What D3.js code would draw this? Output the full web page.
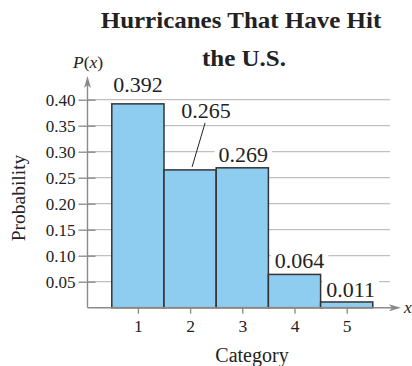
<!DOCTYPE html>
<html>
<head>
<meta charset="utf-8">
<script src="https://cdn.jsdelivr.net/npm/d3@7"></script>
<style>
  html, body { margin: 0; padding: 0; background: #fff; }
  svg { display: block; }
</style>
</head>
<body>
<svg id="chart" width="412" height="366"></svg>
<script>
// Hurricane categories and the probability of each
const categories = [1, 2, 3, 4, 5];
const probabilities = [0.392, 0.265, 0.269, 0.064, 0.011];
const valueLabels = ["0.392", "0.265", "0.269", "0.064", "0.011"];
const yTicks = [0.05, 0.10, 0.15, 0.20, 0.25, 0.30, 0.35, 0.40];
const yTickLabels = ["0.05", "0.10", "0.15", "0.20", "0.25", "0.30", "0.35", "0.40"];

const svg = d3.select("#chart");
const serif = "'Liberation Serif', 'Times New Roman', serif";

const originX = 87.5, baseY = 307.7;
const x = d3.scaleLinear().domain([0.5, 5.5]).range([111.8, 372.8]);
const y = d3.scaleLinear().domain([0, 0.40]).range([baseY, 99.7]);

// Gridlines
svg.append("g").selectAll("line").data(yTicks).join("line")
  .attr("x1", originX).attr("x2", 390)
  .attr("y1", d => y(d)).attr("y2", d => y(d))
  .attr("stroke", "#c0c0c0").attr("stroke-width", 1.2);

// Bars
svg.append("g").selectAll("rect").data(categories).join("rect")
  .attr("x", (d) => x(d - 0.5))
  .attr("y", (d, i) => y(probabilities[i]))
  .attr("width", (d) => x(d + 0.5) - x(d - 0.5))
  .attr("height", (d, i) => baseY - y(probabilities[i]))
  .attr("fill", "#8fcdf0")
  .attr("stroke", "#333")
  .attr("stroke-width", 1.5);

// Y axis ticks and labels
const yAxis = d3.axisLeft(y).tickValues(yTicks).tickFormat((d, i) => yTickLabels[i])
  .tickSize(0).tickPadding(12);
const gy = svg.append("g").attr("transform", `translate(${originX},0)`).call(yAxis);
gy.select(".domain").remove();
gy.selectAll("text").attr("font-family", serif).attr("font-size", 17).attr("fill", "#222");
gy.selectAll(".tick").append("line")
  .attr("x1", -9).attr("x2", 8).attr("y1", 0).attr("y2", 0)
  .attr("stroke", "#888").attr("stroke-width", 1.3);

// X axis ticks and labels
const xAxis = d3.axisBottom(x).tickValues(categories).tickFormat(d3.format("d"))
  .tickSize(6).tickPadding(6);
const gx = svg.append("g").attr("transform", `translate(0,${baseY})`).call(xAxis);
gx.select(".domain").remove();
gx.selectAll(".tick line").attr("stroke", "#888").attr("stroke-width", 1.3);
gx.selectAll("text").attr("font-family", serif).attr("font-size", 17.5).attr("fill", "#222");

// Axis lines with arrowheads
const axisColor = "#8a8a8a";
svg.append("line").attr("x1", originX).attr("x2", originX).attr("y1", baseY).attr("y2", 84)
  .attr("stroke", axisColor).attr("stroke-width", 1.4);
svg.append("path").attr("d", `M${originX},76 L${originX - 3.5},88 L${originX},85 L${originX + 3.5},88 Z`)
  .attr("fill", axisColor);
svg.append("line").attr("x1", originX).attr("x2", 394).attr("y1", baseY).attr("y2", baseY)
  .attr("stroke", axisColor).attr("stroke-width", 1.4);
svg.append("path").attr("d", `M401,${baseY} L389,${baseY - 3.5} L392,${baseY} L389,${baseY + 3.5} Z`)
  .attr("fill", axisColor);

// Axis variable names
svg.append("text").attr("x", 88).attr("y", 68).attr("text-anchor", "middle")
  .attr("font-family", serif).attr("font-size", 17.5).attr("fill", "#222")
  .html("<tspan font-style='italic'>P</tspan>(<tspan font-style='italic'>x</tspan>)");
svg.append("text").attr("x", 404).attr("y", 313)
  .attr("font-family", serif).attr("font-size", 17.5).attr("font-style", "italic").attr("fill", "#222")
  .text("x");

// Value labels; some sit on a white patch over the gridlines
const labelLayout = [
  { dx: 0, dy: -12, box: false },
  { dx: 16, dy: -52, box: false, leader: true },
  { dx: 1, dy: -6, box: true },
  { dx: 5, dy: -6, box: true },
  { dx: 4, dy: -5, box: true }
];
const labels = svg.append("g");
categories.forEach((c, i) => {
  const lay = labelLayout[i];
  const cx = x(c) + lay.dx;
  const by = y(probabilities[i]) + lay.dy;
  const t = labels.append("text").attr("x", cx).attr("y", by).attr("text-anchor", "middle")
    .attr("font-family", serif).attr("font-size", 22).attr("fill", "#222")
    .text(valueLabels[i]);
  if (lay.box) {
    const b = t.node().getBBox();
    labels.insert("rect", "text").attr("x", b.x - 4).attr("y", b.y + 3)
      .attr("width", b.width + 8).attr("height", b.height - 6).attr("fill", "#fff");
  }
  if (lay.leader) {
    labels.append("line")
      .attr("x1", cx - 1).attr("y1", by + 5)
      .attr("x2", x(c) + 2).attr("y2", y(probabilities[i]) - 3)
      .attr("stroke", "#222").attr("stroke-width", 1);
  }
});

// Axis titles
svg.append("text").attr("transform", "translate(25,198) rotate(-90)").attr("text-anchor", "middle")
  .attr("font-family", serif).attr("font-size", 19.5).attr("fill", "#222").text("Probability");
svg.append("text").attr("x", 252).attr("y", 361.5).attr("text-anchor", "middle")
  .attr("font-family", serif).attr("font-size", 20).attr("fill", "#222").text("Category");

// Chart title, two lines
const title = svg.append("g").attr("transform", "translate(0,0) scale(1,0.93)")
  .append("text").attr("text-anchor", "middle")
  .attr("font-family", serif).attr("font-size", 25).attr("font-weight", "bold").attr("fill", "#222");
title.append("tspan").attr("x", 241).attr("y", 27.7 / 0.93).text("Hurricanes That Have Hit");
title.append("tspan").attr("x", 244).attr("y", 66 / 0.93).text("the U.S.");
</script>
</body>
</html>
